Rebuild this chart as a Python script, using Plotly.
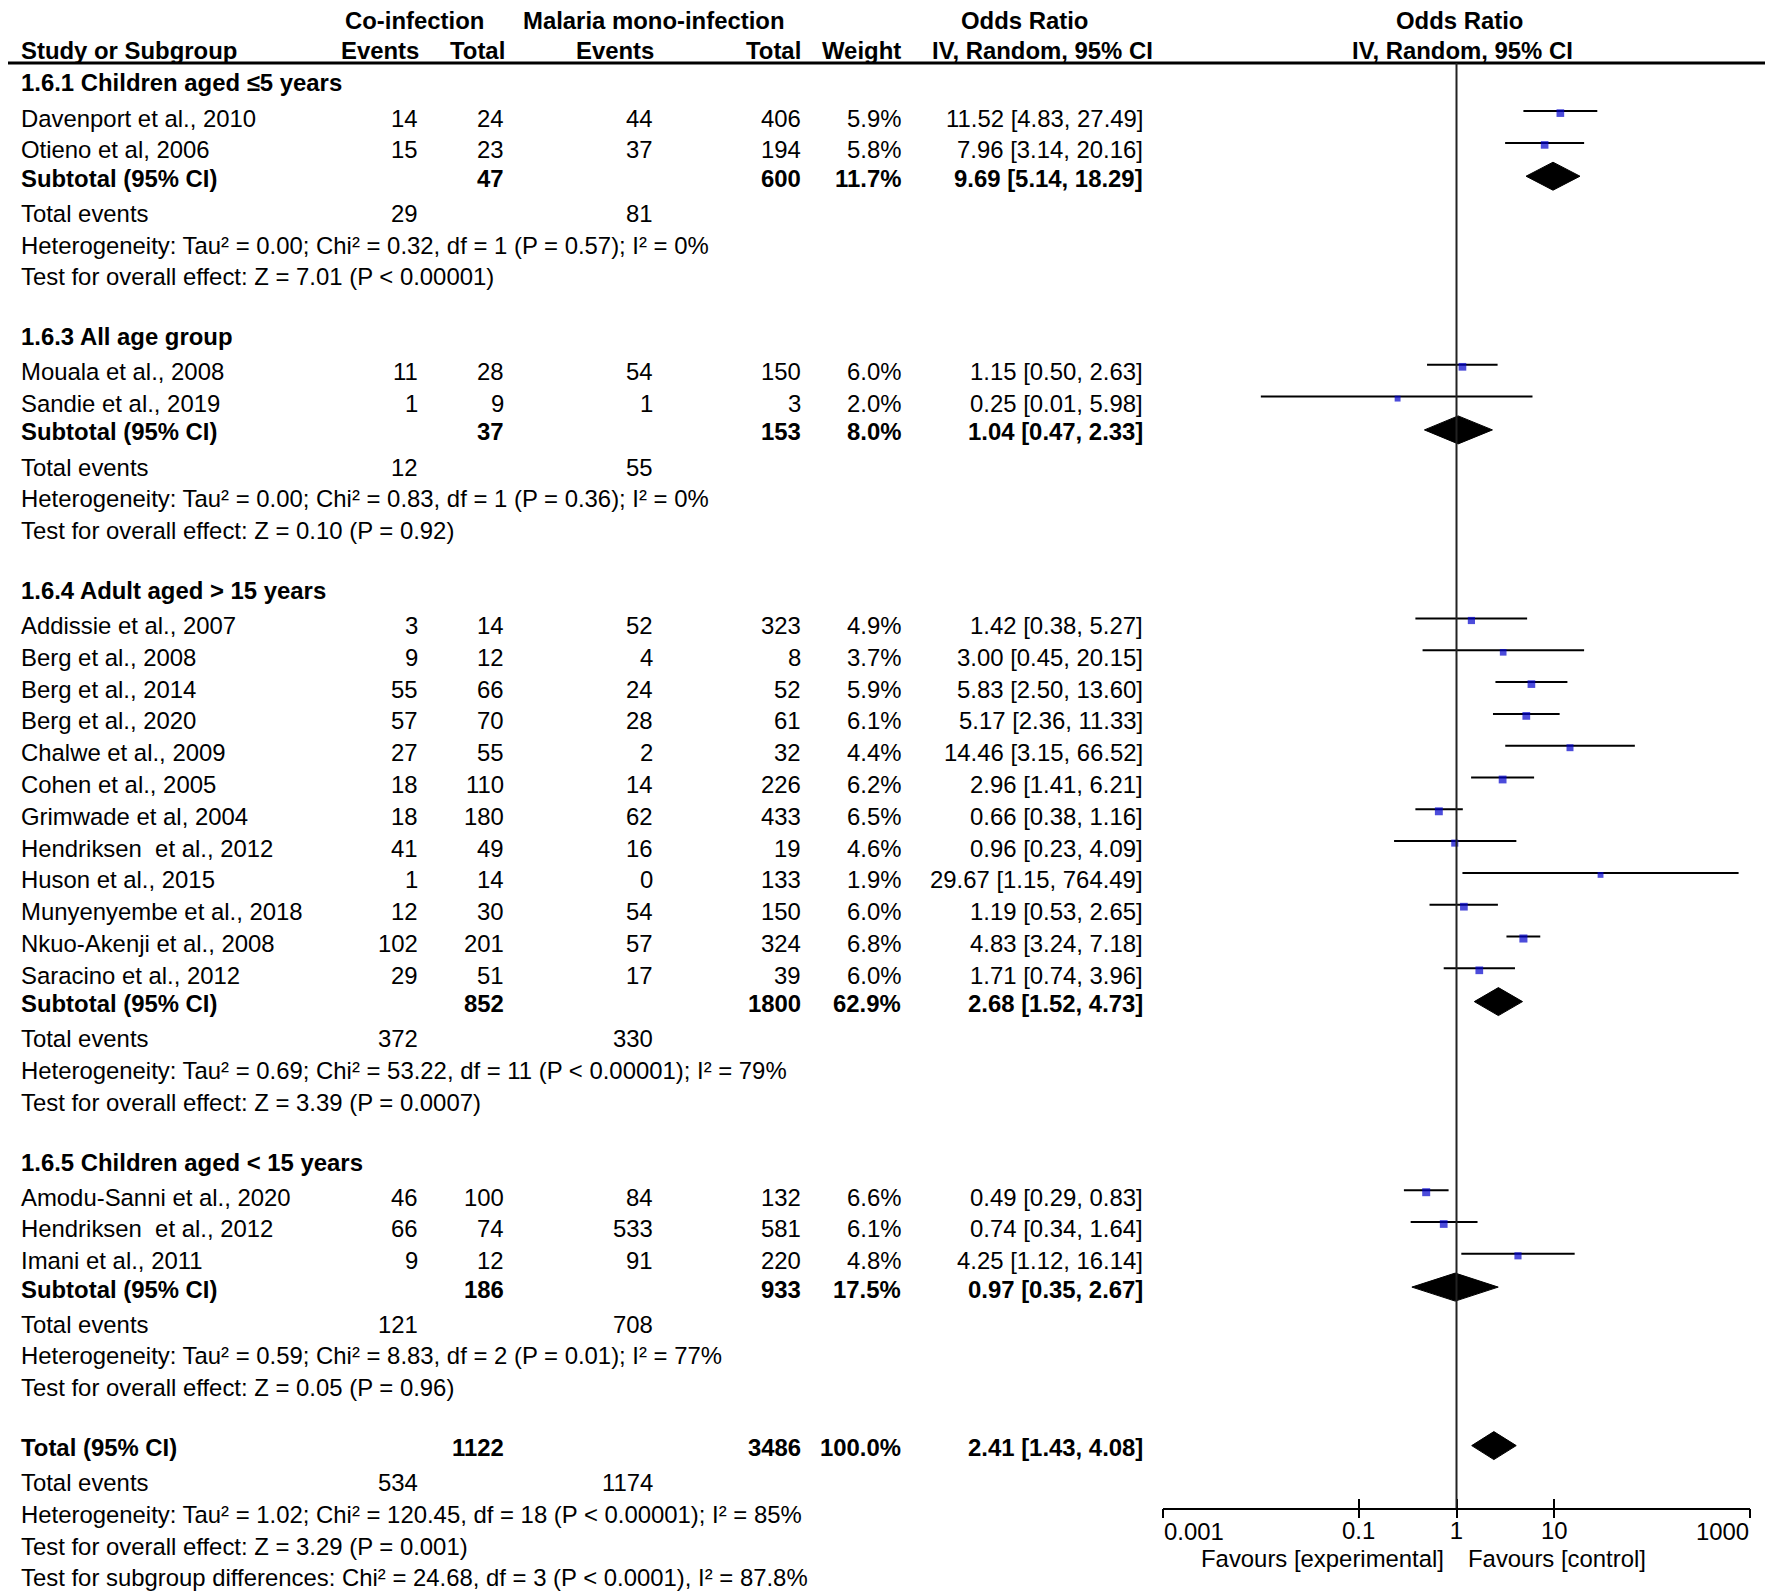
import plotly.graph_objects as go
import math

W, H = 1773, 1591
OFF = 8  # browser default body margin
FW, FH = W - OFF, H - OFF

# ---------------- data ----------------
group_titles = ["1.6.1 Children aged ≤5 years", "1.6.3 All age group",
                "1.6.4 Adult aged > 15 years", "1.6.5 Children aged < 15 years"]

study_names = [
    ["Davenport et al., 2010", "Otieno et al, 2006"],
    ["Mouala et al., 2008", "Sandie et al., 2019"],
    ["Addissie et al., 2007", "Berg et al., 2008", "Berg et al., 2014", "Berg et al., 2020",
     "Chalwe et al., 2009", "Cohen et al., 2005", "Grimwade et al, 2004", "Hendriksen  et al., 2012",
     "Huson et al., 2015", "Munyenyembe et al., 2018", "Nkuo-Akenji et al., 2008", "Saracino et al., 2012"],
    ["Amodu-Sanni et al., 2020", "Hendriksen  et al., 2012", "Imani et al., 2011"],
]
exp_events = [[14, 15], [11, 1], [3, 9, 55, 57, 27, 18, 18, 41, 1, 12, 102, 29], [46, 66, 9]]
exp_total = [[24, 23], [28, 9], [14, 12, 66, 70, 55, 110, 180, 49, 14, 30, 201, 51], [100, 74, 12]]
ctl_events = [[44, 37], [54, 1], [52, 4, 24, 28, 2, 14, 62, 16, 0, 54, 57, 17], [84, 533, 91]]
ctl_total = [[406, 194], [150, 3], [323, 8, 52, 61, 32, 226, 433, 19, 133, 150, 324, 39], [132, 581, 220]]
weights = [[5.9, 5.8], [6.0, 2.0], [4.9, 3.7, 5.9, 6.1, 4.4, 6.2, 6.5, 4.6, 1.9, 6.0, 6.8, 6.0], [6.6, 6.1, 4.8]]
or_est = [[11.52, 7.96], [1.15, 0.25], [1.42, 3.00, 5.83, 5.17, 14.46, 2.96, 0.66, 0.96, 29.67, 1.19, 4.83, 1.71],
          [0.49, 0.74, 4.25]]
or_lo = [[4.83, 3.14], [0.50, 0.01], [0.38, 0.45, 2.50, 2.36, 3.15, 1.41, 0.38, 0.23, 1.15, 0.53, 3.24, 0.74],
         [0.29, 0.34, 1.12]]
or_hi = [[27.49, 20.16], [2.63, 5.98], [5.27, 20.15, 13.60, 11.33, 66.52, 6.21, 1.16, 4.09, 764.49, 2.65, 7.18, 3.96],
         [0.83, 1.64, 16.14]]

sub_exp_total = [47, 37, 852, 186]
sub_ctl_total = [600, 153, 1800, 933]
sub_weight = [11.7, 8.0, 62.9, 17.5]
sub_est = [9.69, 1.04, 2.68, 0.97]
sub_lo = [5.14, 0.47, 1.52, 0.35]
sub_hi = [18.29, 2.33, 4.73, 2.67]
sub_exp_events = [29, 12, 372, 121]
sub_ctl_events = [81, 55, 330, 708]
sub_het = ["Heterogeneity: Tau² = 0.00; Chi² = 0.32, df = 1 (P = 0.57); I² = 0%",
           "Heterogeneity: Tau² = 0.00; Chi² = 0.83, df = 1 (P = 0.36); I² = 0%",
           "Heterogeneity: Tau² = 0.69; Chi² = 53.22, df = 11 (P < 0.00001); I² = 79%",
           "Heterogeneity: Tau² = 0.59; Chi² = 8.83, df = 2 (P = 0.01); I² = 77%"]
sub_test = ["Test for overall effect: Z = 7.01 (P < 0.00001)",
            "Test for overall effect: Z = 0.10 (P = 0.92)",
            "Test for overall effect: Z = 3.39 (P = 0.0007)",
            "Test for overall effect: Z = 0.05 (P = 0.96)"]

total_exp_total = 1122
total_ctl_total = 3486
total_weight = 100.0
total_est, total_lo, total_hi = 2.41, 1.43, 4.08
total_exp_events, total_ctl_events = 534, 1174
total_het = "Heterogeneity: Tau² = 1.02; Chi² = 120.45, df = 18 (P < 0.00001); I² = 85%"
total_test = "Test for overall effect: Z = 3.29 (P = 0.001)"
subgroup_test = "Test for subgroup differences: Chi² = 24.68, df = 3 (P < 0.0001), I² = 87.8%"

tick_vals = [0.001, 0.1, 1, 10, 1000]
tick_labels = ["0.001", "0.1", "1", "10", "1000"]
favours_left = "Favours [experimental]"
favours_right = "Favours [control]"

# ---------------- layout geometry (page pixels) ----------------
FONT = "Liberation Sans, Arial, Helvetica, sans-serif"
FS = 23.9
RULE_Y = 63
AXIS_Y = 1508
X_LEFT_PX, X_RIGHT_PX = 1163, 1750

COL_NAME = 20
COL_EXP_EV = 419
COL_EXP_TOT = 505
COL_CTL_EV = 654
COL_CTL_TOT = 802
COL_WEIGHT = 902
COL_OR = 1144

STEP_HEAD = 35.1
STEP_STUDY = 31.8
STEP_SUB = 28.3
STEP_EVENTS = 35.1
STEP_LINE = 31.7
STEP_GROUP = 60.0


def px2paper(px):
    return (px - OFF) / FW


def py2paper(py):
    return 1 - (py - OFF) / FH


annotations = []


def txt(px, py, s, anchor="left", bold=False):
    annotations.append(dict(
        x=px2paper(px), y=py2paper(py), xref="paper", yref="paper",
        text=f"<b>{s}</b>" if bold else s,
        showarrow=False, xanchor=anchor, yanchor="middle", borderpad=0,
        font=dict(family=FONT, size=FS, color="black"),
    ))


# headers
txt(414, 20, "Co-infection", "center", True)
txt(654, 20, "Malaria mono-infection", "center", True)
txt(1024, 20, "Odds Ratio", "center", True)
txt(1459, 20, "Odds Ratio", "center", True)
txt(COL_NAME, 50, "Study or Subgroup", "left", True)
txt(COL_EXP_EV + 1, 50, "Events", "right", True)
txt(COL_EXP_TOT + 1, 50, "Total", "right", True)
txt(COL_CTL_EV + 1, 50, "Events", "right", True)
txt(COL_CTL_TOT, 50, "Total", "right", True)
txt(COL_WEIGHT, 50, "Weight", "right", True)
txt(1042, 50, "IV, Random, 95% CI", "center", True)
txt(1462, 50, "IV, Random, 95% CI", "center", True)

CI_OFF = -7
SQ_OFF = 2
DIA_OFF = -2
DIA_H = 14

ci_x, ci_y = [], []
sq_x, sq_y, sq_s = [], [], []
dia_x, dia_y = [], []


def fmt_or(e, l, h):
    return f"{e:.2f} [{l:.2f}, {h:.2f}]"


def add_diamond(e, l, h, yc):
    dia_x.extend([l, e, h, e, l, None])
    dia_y.extend([yc, yc - DIA_H, yc, yc + DIA_H, yc, None])


y = 83.0
for g in range(len(group_titles)):
    txt(COL_NAME, y, group_titles[g], "left", True)
    y += STEP_HEAD
    n = len(study_names[g])
    for i in range(n):
        txt(COL_NAME, y, study_names[g][i])
        txt(COL_EXP_EV, y, str(exp_events[g][i]), "right")
        txt(COL_EXP_TOT, y, str(exp_total[g][i]), "right")
        txt(COL_CTL_EV, y, str(ctl_events[g][i]), "right")
        txt(COL_CTL_TOT, y, str(ctl_total[g][i]), "right")
        txt(COL_WEIGHT, y, f"{weights[g][i]:.1f}%", "right")
        txt(COL_OR, y, fmt_or(or_est[g][i], or_lo[g][i], or_hi[g][i]), "right")
        yl = y + CI_OFF
        ci_x.extend([or_lo[g][i], or_hi[g][i], None])
        ci_y.extend([yl, yl, None])
        sq_x.append(or_est[g][i])
        sq_y.append(yl + SQ_OFF)
        sq_s.append(5.0 + 0.45 * weights[g][i])
        if i < n - 1:
            y += STEP_STUDY
    y += STEP_SUB
    txt(COL_NAME, y, "Subtotal (95% CI)", "left", True)
    txt(COL_EXP_TOT, y, str(sub_exp_total[g]), "right", True)
    txt(COL_CTL_TOT, y, str(sub_ctl_total[g]), "right", True)
    txt(COL_WEIGHT, y, f"{sub_weight[g]:.1f}%", "right", True)
    txt(COL_OR, y, fmt_or(sub_est[g], sub_lo[g], sub_hi[g]), "right", True)
    add_diamond(sub_est[g], sub_lo[g], sub_hi[g], y + DIA_OFF)
    y += STEP_EVENTS
    txt(COL_NAME, y, "Total events")
    txt(COL_EXP_EV, y, str(sub_exp_events[g]), "right")
    txt(COL_CTL_EV, y, str(sub_ctl_events[g]), "right")
    y += STEP_LINE
    txt(COL_NAME, y, sub_het[g])
    y += STEP_LINE
    txt(COL_NAME, y, sub_test[g])
    y += STEP_GROUP

# overall
txt(COL_NAME, y, "Total (95% CI)", "left", True)
txt(COL_EXP_TOT, y, str(total_exp_total), "right", True)
txt(COL_CTL_TOT, y, str(total_ctl_total), "right", True)
txt(COL_WEIGHT, y, f"{total_weight:.1f}%", "right", True)
txt(COL_OR, y, fmt_or(total_est, total_lo, total_hi), "right", True)
add_diamond(total_est, total_lo, total_hi, y + DIA_OFF)
y += STEP_EVENTS
txt(COL_NAME, y, "Total events")
txt(COL_EXP_EV, y, str(total_exp_events), "right")
txt(COL_CTL_EV, y, str(total_ctl_events), "right")
y += STEP_LINE
txt(COL_NAME, y, total_het)
y += STEP_LINE
txt(COL_NAME, y, total_test)
y += STEP_LINE
txt(COL_NAME, y, subgroup_test)

# axis end labels (aligned to the end ticks) and favours labels
for v, lab in zip(tick_vals, tick_labels):
    if v in (tick_vals[0], tick_vals[-1]):
        annotations.append(dict(x=math.log10(v), y=py2paper(1531), xref="x", yref="paper", text=lab,
                                showarrow=False, xanchor="left" if v == tick_vals[0] else "right",
                                yanchor="middle", borderpad=0,
                                font=dict(family=FONT, size=FS, color="black")))
txt(1445, 1558, favours_left, "right")
txt(1467, 1558, favours_right, "left")

fig = go.Figure()
fig.add_trace(go.Scatter(x=ci_x, y=ci_y, mode="lines", line=dict(color="black", width=2),
                         hoverinfo="skip", showlegend=False))
fig.add_trace(go.Scatter(x=sq_x, y=sq_y, mode="markers",
                         marker=dict(symbol="square", size=sq_s, color="#0000CC", line=dict(width=0)),
                         showlegend=False))
fig.add_trace(go.Scatter(x=dia_x, y=dia_y, mode="lines", fill="toself", fillcolor="black",
                         line=dict(color="black", width=1), hoverinfo="skip", showlegend=False))
# invisible traces registering the overlay axes that draw the crossing tick marks
for ax in ("x2", "x3"):
    fig.add_trace(go.Scatter(x=[1], y=[RULE_Y], xaxis=ax, yaxis="y", mode="markers",
                             marker=dict(opacity=0), hoverinfo="skip", showlegend=False))

xdom = [px2paper(X_LEFT_PX), px2paper(X_RIGHT_PX)]
ydom = [py2paper(AXIS_Y), py2paper(RULE_Y)]

common = dict(type="log", range=[-3, 3], domain=xdom, anchor="y",
              showgrid=False, zeroline=False, fixedrange=True, tickvals=tick_vals)

fig.update_layout(
    width=FW, height=FH,
    margin=dict(l=0, r=0, t=0, b=0, pad=0),
    paper_bgcolor="white", plot_bgcolor="white",
    font=dict(family=FONT, size=FS, color="black"),
    annotations=annotations,
    xaxis=dict(**common, showline=True, linecolor="black", linewidth=2, ticks="",
               ticktext=["" if v in (tick_vals[0], tick_vals[-1]) else l for v, l in zip(tick_vals, tick_labels)],
               tickfont=dict(family=FONT, size=FS, color="black")),
    xaxis2=dict(**common, overlaying="x", side="bottom", showline=False, ticks="outside",
                ticklen=9, tickwidth=2, tickcolor="black", showticklabels=False),
    xaxis3=dict(**common, overlaying="x", side="bottom", showline=False, ticks="inside",
                ticklen=9, tickwidth=2, tickcolor="black", showticklabels=False),
    yaxis=dict(range=[AXIS_Y, RULE_Y], domain=ydom, visible=False, showgrid=False,
               zeroline=False, fixedrange=True),
    shapes=[
        dict(type="line", xref="paper", yref="paper", x0=0, x1=1, y0=py2paper(RULE_Y), y1=py2paper(RULE_Y),
             line=dict(color="black", width=3)),
        dict(type="line", xref="x", yref="y", x0=1, x1=1, y0=RULE_Y, y1=AXIS_Y,
             line=dict(color="#222222", width=2)),
    ],
)

fig.write_html("out.html")
